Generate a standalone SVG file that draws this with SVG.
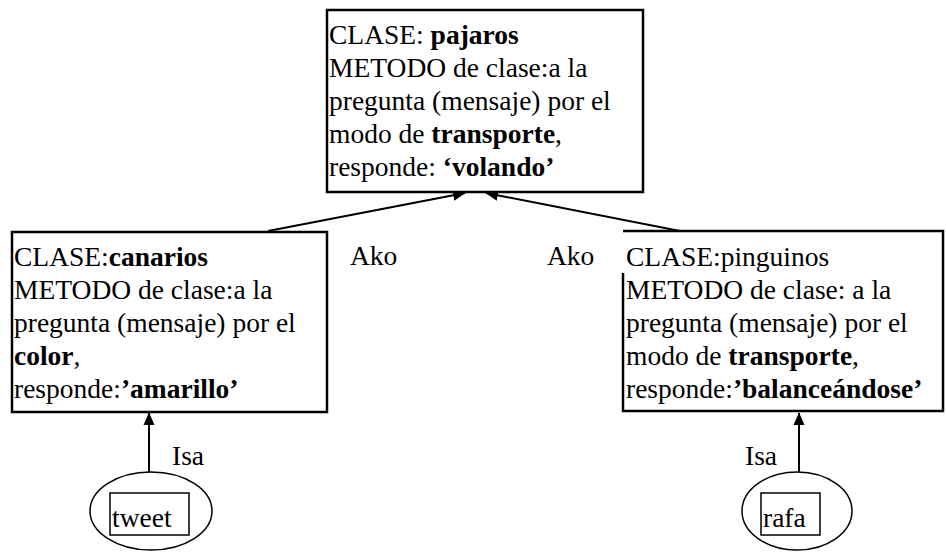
<svg xmlns="http://www.w3.org/2000/svg" width="946" height="552" viewBox="0 0 946 552">
<style>
.t{font-family:"Liberation Serif","Times New Roman",serif;font-size:27.5px;fill:#000}
.b{font-weight:bold}
.box{fill:#fff;stroke:#000;stroke-width:2.5}
.ln{stroke:#000;stroke-width:2;fill:none}
.thin{fill:none;stroke:#000;stroke-width:1.5}
</style>
<defs>
<marker id="ah" markerWidth="13" markerHeight="12" refX="12" refY="6" orient="auto" markerUnits="userSpaceOnUse" viewBox="0 0 13 12">
<path d="M0,0.5 L12.5,6 L0,11.5 z" fill="#000"/>
</marker>
</defs>
<rect width="946" height="552" fill="#fff"/>
<g font-family="Liberation Serif, Times New Roman, serif">
<g id="connectors">
<line class="ln" x1="268" y1="231" x2="465" y2="193" marker-end="url(#ah)"/>
<line class="ln" x1="680" y1="231" x2="486" y2="193" marker-end="url(#ah)"/>
<line class="ln" x1="149" y1="472" x2="149" y2="413" marker-end="url(#ah)"/>
<line class="ln" x1="799" y1="472" x2="799" y2="413" marker-end="url(#ah)"/>
<text class="t" x="350" y="265">Ako</text>
<text class="t" x="547" y="265">Ako</text>
<text class="t" x="172" y="465">Isa</text>
<text class="t" x="745" y="465">Isa</text>
</g>
<g id="pajaros">
<rect class="box" x="327" y="10" width="316" height="182"/>
<text class="t" x="329" y="44">CLASE: <tspan class="b">pajaros</tspan></text>
<text class="t" x="329" y="77">METODO de clase:a la</text>
<text class="t" x="329" y="110">pregunta (mensaje) por el</text>
<text class="t" x="329" y="143">modo de <tspan class="b">transporte</tspan>,</text>
<text class="t" x="329" y="176">responde: <tspan class="b">‘volando’</tspan></text>
</g>
<g id="canarios">
<rect class="box" x="12" y="232" width="315" height="180"/>
<text class="t" x="14" y="266">CLASE:<tspan class="b">canarios</tspan></text>
<text class="t" x="14" y="299">METODO de clase:a la</text>
<text class="t" x="14" y="332">pregunta (mensaje) por el</text>
<text class="t" x="14" y="365"><tspan class="b">color</tspan>,</text>
<text class="t" x="14" y="398">responde:<tspan class="b">’amarillo’</tspan></text>
</g>
<g id="pinguinos">
<path d="M623,273 L623,411 L943,411 L943,231 L623,231" class="box"/>
<text class="t" x="626" y="266">CLASE:pinguinos</text>
<text class="t" x="626" y="299">METODO de clase: a la</text>
<text class="t" x="626" y="332">pregunta (mensaje) por el</text>
<text class="t" x="626" y="365">modo de <tspan class="b">transporte</tspan>,</text>
<text class="t" x="626" y="398">responde:<tspan class="b">’balanceándose’</tspan></text>
</g>
<g id="tweet">
<ellipse class="thin" cx="151" cy="511" rx="61" ry="39"/>
<rect class="thin" x="110" y="493" width="79" height="42"/>
<text class="t" x="112" y="527">tweet</text>
</g>
<g id="rafa">
<ellipse class="thin" cx="797" cy="511" rx="55" ry="39"/>
<rect class="thin" x="761" y="493" width="59" height="42"/>
<text class="t" x="763" y="527">rafa</text>
</g>
</g>
</svg>
